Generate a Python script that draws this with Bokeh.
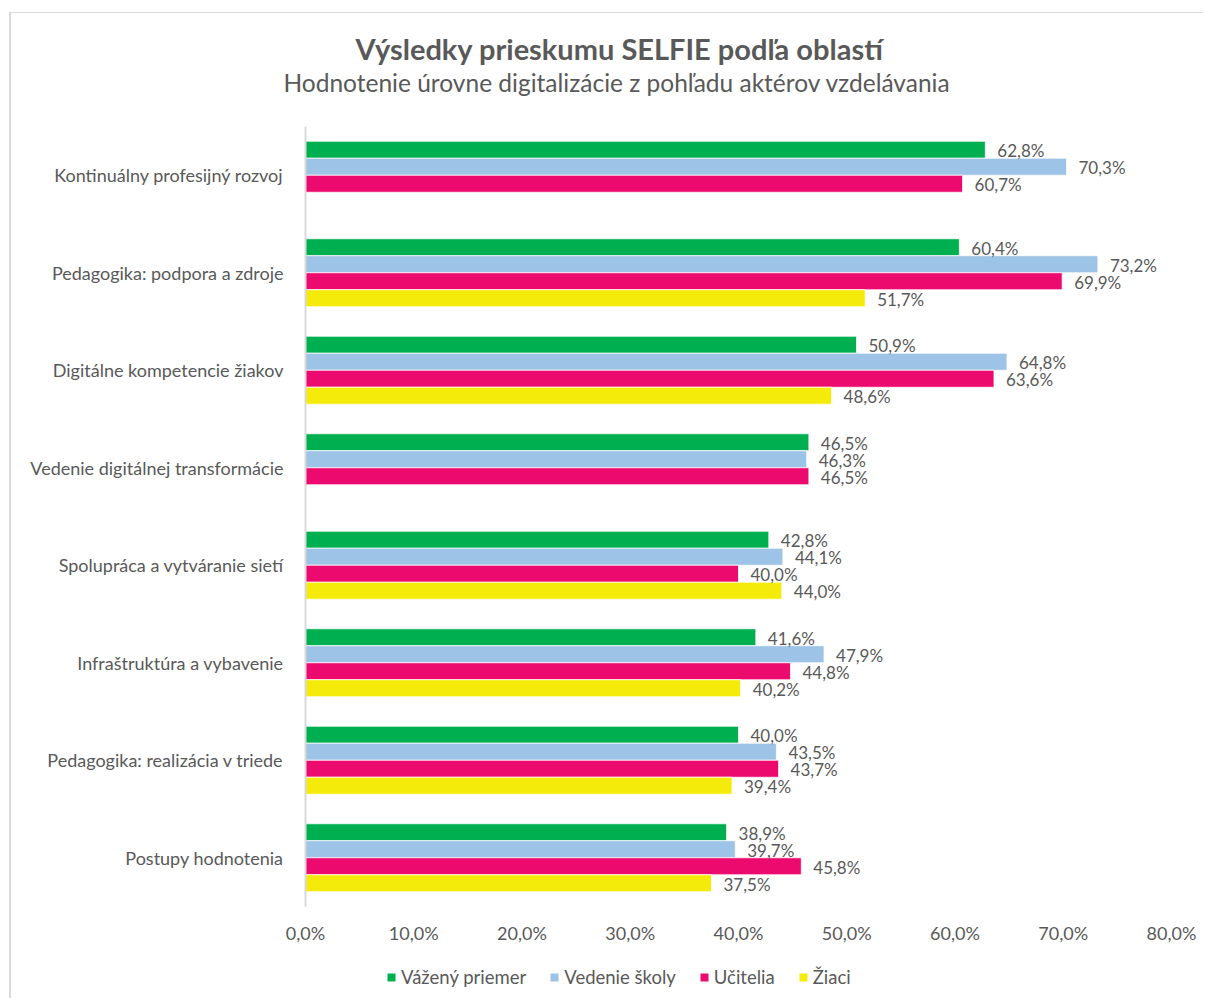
from bokeh.plotting import figure
from bokeh.layouts import column
from bokeh.models import (ColumnDataSource, FactorRange, Range1d, FixedTicker,
                          CustomJSTickFormatter, Title, Legend, LegendItem)
from bokeh.transform import dodge
from bokeh.embed import file_html
from bokeh.resources import INLINE
from bokeh.core.properties import value

# ---------------- data ----------------
categories = [
    "Kontinuálny profesijný rozvoj",
    "Pedagogika: podpora a zdroje",
    "Digitálne kompetencie žiakov",
    "Vedenie digitálnej transformácie",
    "Spolupráca a vytváranie sietí",
    "Infraštruktúra a vybavenie",
    "Pedagogika: realizácia v triede",
    "Postupy hodnotenia",
]
vazeny_priemer = [62.8, 60.4, 50.9, 46.5, 42.8, 41.6, 40.0, 38.9]
vedenie_skoly = [70.3, 73.2, 64.8, 46.3, 44.1, 47.9, 43.5, 39.7]
ucitelia = [60.7, 69.9, 63.6, 46.5, 40.0, 44.8, 43.7, 45.8]
ziaci = [None, 51.7, 48.6, None, 44.0, 40.2, 39.4, 37.5]
series_names = ["Vážený priemer", "Vedenie školy", "Učitelia", "Žiaci"]
x_ticks = [0, 10, 20, 30, 40, 50, 60, 70, 80]
title_text = "Výsledky prieskumu SELFIE podľa oblastí"
subtitle_text = "Hodnotenie úrovne digitalizácie z pohľadu aktérov vzdelávania"

# ---------------- style ----------------
FONT = "Lato"
TXT = "#595959"
colors = ["#00B050", "#9DC3E6", "#EC0A6E", "#F5EB0A"]
offsets = [0.2615, 0.0872, -0.0872, -0.2615]
BAR_H = 0.1744
W = 1192


def fmt(v):
    return f"{v:.1f}%".replace(".", ",")


p = figure(
    width=W, height=945,
    x_range=Range1d(0, 80),
    y_range=FactorRange(factors=list(reversed(categories))),
    output_backend="svg", toolbar_location=None,
    min_border_left=294, min_border_top=113,
    min_border_right=32, min_border_bottom=52,
)
p.outline_line_color = None
p.background_fill_color = "white"
p.border_fill_color = "white"
p.xgrid.grid_line_color = None
p.ygrid.grid_line_color = None

sources = []
for vals in [vazeny_priemer, vedenie_skoly, ucitelia, ziaci]:
    cats = [c for c, v in zip(categories, vals) if v is not None]
    vs = [v for v in vals if v is not None]
    sources.append(ColumnDataSource(dict(cat=cats, val=vs,
                                         lbl=[fmt(v) for v in vs])))

# bars first, then all value labels on top
for src, color, off in zip(sources, colors, offsets):
    p.hbar(y=dodge("cat", off, range=p.y_range), left=0, right="val",
           height=BAR_H, fill_color=color, line_color="white",
           line_width=0.75, source=src)
for src, off in zip(sources, offsets):
    p.text(x="val", y=dodge("cat", off, range=p.y_range), text="lbl",
           x_offset=12, y_offset=1, text_baseline="middle", text_align="left",
           text_font=value(FONT), text_font_size="17px", text_color=TXT,
           source=src)

# axes
p.xaxis.ticker = FixedTicker(ticks=x_ticks)
p.xaxis.formatter = CustomJSTickFormatter(
    code="return tick.toFixed(1).replace('.', ',') + '%';")
p.xaxis.axis_line_color = None
p.xaxis.major_tick_line_color = None
p.xaxis.minor_tick_line_color = None
p.xaxis.major_tick_out = 0
p.xaxis.major_label_standoff = 15
p.xaxis.major_label_text_font = FONT
p.xaxis.major_label_text_font_size = "18px"
p.xaxis.major_label_text_color = TXT

p.yaxis.axis_line_color = "#d9d9d9"
p.yaxis.axis_line_width = 2
p.yaxis.major_tick_line_color = None
p.yaxis.minor_tick_line_color = None
p.yaxis.major_tick_out = 0
p.yaxis.major_label_standoff = 22
p.yaxis.major_label_text_font = FONT
p.yaxis.major_label_text_font_size = "18px"
p.yaxis.major_label_text_color = TXT

# titles (first added sits closest to the plot); a blank spacer first
p.add_layout(Title(text=" ", text_font_size="10px", standoff=17), "above")
p.add_layout(Title(text=subtitle_text, align="left", offset=-22,
                   text_font=FONT, text_font_style="normal",
                   text_font_size="24.5px", text_color=TXT, standoff=0), "above")
p.add_layout(Title(text=title_text, align="left", offset=50,
                   text_font=FONT, text_font_style="bold",
                   text_font_size="29px", text_color=TXT, standoff=0), "above")

# legend strip below the chart (its frame is aligned with the chart's frame)
lg = figure(width=W, height=40, output_backend="svg", toolbar_location=None,
            x_axis_type=None, y_axis_type=None,
            x_range=Range1d(0, 1), y_range=Range1d(0, 1),
            min_border_left=0, min_border_right=0,
            min_border_top=0, min_border_bottom=0)
lg.outline_line_color = None
lg.xgrid.grid_line_color = None
lg.ygrid.grid_line_color = None
items = []
for name, color in zip(series_names, colors):
    # legend proxy glyph, placed outside the visible range
    r = lg.rect(x=[-5], y=[-5], width=0.1, height=0.1,
                fill_color=color, line_color=None)
    items.append(LegendItem(label=name, renderers=[r]))
legend = Legend(items=items, location=(81, 10), orientation="horizontal",
                glyph_width=10, glyph_height=10, label_standoff=5, spacing=23,
                padding=0, margin=0, border_line_color=None,
                background_fill_alpha=0, label_height=20,
                label_text_font=FONT, label_text_font_size="18.5px",
                label_text_color=TXT)
lg.add_layout(legend)

layout = column(p, lg, spacing=0)
layout.styles = {
    "margin-left": "9px", "margin-top": "12px",
    "border-left": "2px solid #d9d9d9", "border-top": "1px solid #d9d9d9",
}

open("out.html", "w").write(file_html(layout, INLINE))
